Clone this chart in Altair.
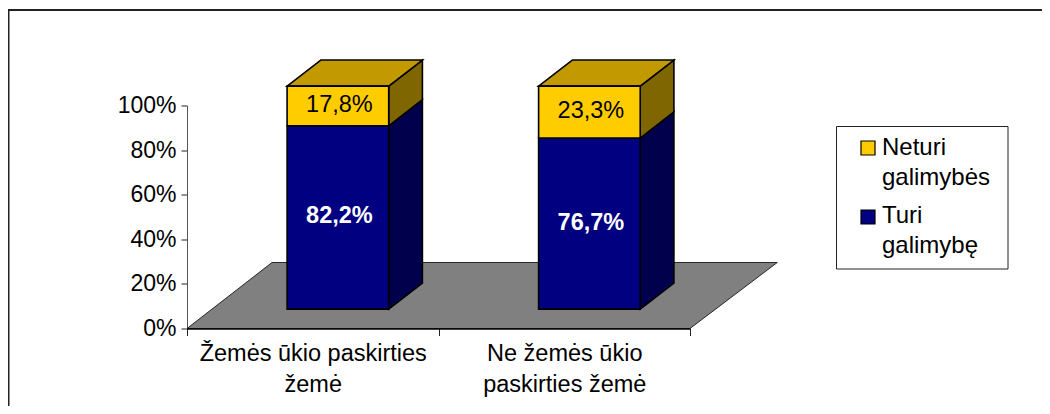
import json
import altair as alt
import pandas as pd

categories = ["Žemės ūkio paskirties\nžemė", "Ne žemės ūkio\npaskirties žemė"]
series = ["Turi galimybę", "Neturi galimybės"]
turi = [82.2, 76.7]
neturi = [17.8, 23.3]
labels_turi = ["82,2%", "76,7%"]
labels_neturi = ["17,8%", "23,3%"]
front_colors = ["#000080", "#FFCC00"]
side_colors = ["#00004D", "#806600"]
top_colors = ["#000050", "#C29A00"]
legend_names = ["Neturi\ngalimybės", "Turi\ngalimybę"]
legend_colors = ["#FFCC00", "#000080"]

FONT = "Liberation Sans"
FS_X = 23.5
FS_Y = 23
FS_D = 23.5
LFS = 24
# projection of the pseudo-3D box, in axis units
bar_x0, bar_w = 0.398, 0.404
dep_x, dep_y = 0.134, 11.7
base = 8.7

fronts, sides, tops, texts = [], [], [], []
for i in range(2):
    x0 = i + bar_x0
    x1 = x0 + bar_w
    low = base
    for s, (vals, labs, txt) in enumerate(((turi, labels_turi, "white"), (neturi, labels_neturi, "black"))):
        v = vals[i]
        high = low + v
        fronts.append(dict(x=x0, x2=x1, y=low, y2=high, fill=front_colors[s]))
        key = f"{i}-{s}"
        sides.append(dict(k=key, x=x1, y=low, y2=high, fill=side_colors[s]))
        sides.append(dict(k=key, x=x1 + dep_x, y=low + dep_y, y2=high + dep_y, fill=side_colors[s]))
        texts.append(dict(x=(x0 + x1) / 2, y=(low + high) / 2, t=labs[i], c=txt, b=s == 0))
        low = high
    tops.append(dict(k=str(i), y=low, x=x0, x2=x1, fill=top_colors[1]))
    tops.append(dict(k=str(i), y=low + dep_y, x=x0 + dep_x, x2=x1 + dep_x, fill=top_colors[1]))

floor = [dict(y=0, x=0, x2=2), dict(y=29.6, x=0.338, x2=2.347)]

xs = alt.Scale(domain=[0, 2], nice=False, zero=False)
ys = alt.Scale(domain=[0, 100], nice=False, zero=False)

lab_expr = (
    f"datum.value == 0.5 ? {json.dumps(categories[0].split(chr(10)), ensure_ascii=False)} : "
    f"datum.value == 1.5 ? {json.dumps(categories[1].split(chr(10)), ensure_ascii=False)} : ''"
)
x_axis = alt.Axis(
    values=[0, 0.5, 1, 1.5, 2], title=None, grid=False, labelExpr=lab_expr,
    labelFont=FONT, labelFontSize=FS_X, labelColor="black", labelLineHeight=31,
    labelPadding=6, labelOverlap=False, labelFlush=False, labelLimit=400,
    tickColor="#222222", tickSize=7, tickWidth=1,
    tickOpacity={"condition": {"test": "datum.value % 1 == 0", "value": 1}, "value": 0},
    domainColor="black", domainWidth=1.5, zindex=1,
)
y_axis = alt.Axis(
    values=[0, 20, 40, 60, 80, 100], title=None, grid=False, labelExpr="datum.value + '%'",
    labelFont=FONT, labelFontSize=FS_Y, labelColor="black", labelPadding=5, labelOverlap=False,
    tickColor="#222222", tickSize=6, tickWidth=1, domainColor="#555555", domainWidth=1,
)

X = alt.X("x:Q", scale=xs, axis=x_axis)
Y = alt.Y("y:Q", scale=ys, axis=y_axis, stack=None)

floor_l = alt.Chart(pd.DataFrame(floor)).mark_area(
    orient="horizontal", fill="#808080", stroke="black", strokeWidth=0.8
).encode(y=Y, x=X, x2="x2:Q")

F = alt.Color("fill:N", scale=None, legend=None)
side_l = alt.Chart(pd.DataFrame(sides)).mark_area(
    orient="vertical", stroke="black", strokeWidth=1.6, strokeJoin="miter"
).encode(x=X, y=Y, y2="y2:Q", fill=F, detail="k:N")
top_l = alt.Chart(pd.DataFrame(tops)).mark_area(
    orient="horizontal", stroke="black", strokeWidth=1.6
).encode(y=Y, x=X, x2="x2:Q", fill=F, detail="k:N")
front_l = alt.Chart(pd.DataFrame(fronts)).mark_rect(stroke="black", strokeWidth=1.6).encode(
    x=X, x2="x2:Q", y=Y, y2="y2:Q", fill=F
)
tdf = pd.DataFrame(texts)
text_n = alt.Chart(tdf[~tdf.b]).mark_text(font=FONT, fontSize=FS_D, dx=1.5, dy=-1, color="black").encode(
    x=X, y=Y, text="t:N"
)
text_b = alt.Chart(tdf[tdf.b]).mark_text(font=FONT, fontSize=FS_D, fontWeight="bold", dx=1.5, dy=-1, color="white").encode(
    x=X, y=Y, text="t:N"
)

# page pixel -> plot coordinates
PL, PT = 179, 97.5
def px(v): return alt.value(v - 8 - PL)
def py(v): return alt.value(v - 8 - PT)

one = pd.DataFrame({"a": [0]})
frame_top = alt.Chart(one).mark_rule(color="#222222", strokeWidth=2).encode(
    x=px(8), x2=px(1050), y=py(10))
frame_left = alt.Chart(one).mark_rule(color="#222222", strokeWidth=2).encode(
    x=px(8.5), y=py(10), y2=py(414))

box = alt.Chart(one).mark_rect(fill="white", stroke="#222222", strokeWidth=1).encode(
    x=px(836.5), x2=px(1008), y=py(126.5), y2=py(269))
sq_rows = [(legend_colors[0], 148), (legend_colors[1], 217)]
squares = [
    alt.Chart(one).mark_rect(fill=c, stroke="black", strokeWidth=1.2).encode(
        x=px(861), x2=px(875), y=py(yy - 7), y2=py(yy + 7))
    for c, yy in sq_rows
]
legend_text = [
    alt.Chart(pd.DataFrame({"t": [n]})).mark_text(
        font=FONT, fontSize=LFS, align="left", baseline="middle", lineBreak="\n", lineHeight=30, color="black"
    ).encode(x=px(882), y=py(yy), text="t:N")
    for n, yy in zip(legend_names, [147.5, 215.5])
]

chart = alt.layer(
    floor_l, frame_top, frame_left, side_l, top_l, front_l, text_n, text_b, box, *squares, *legend_text
).properties(
    width=503, height=223,
    padding={"left": PL, "top": PT, "right": 1034 - PL - 503, "bottom": 398 - PT - 223},
    autosize=alt.AutoSizeParams(type="none"),
).configure_view(stroke=None)

chart.save("out.html", embed_options={"renderer": "svg", "actions": False})
